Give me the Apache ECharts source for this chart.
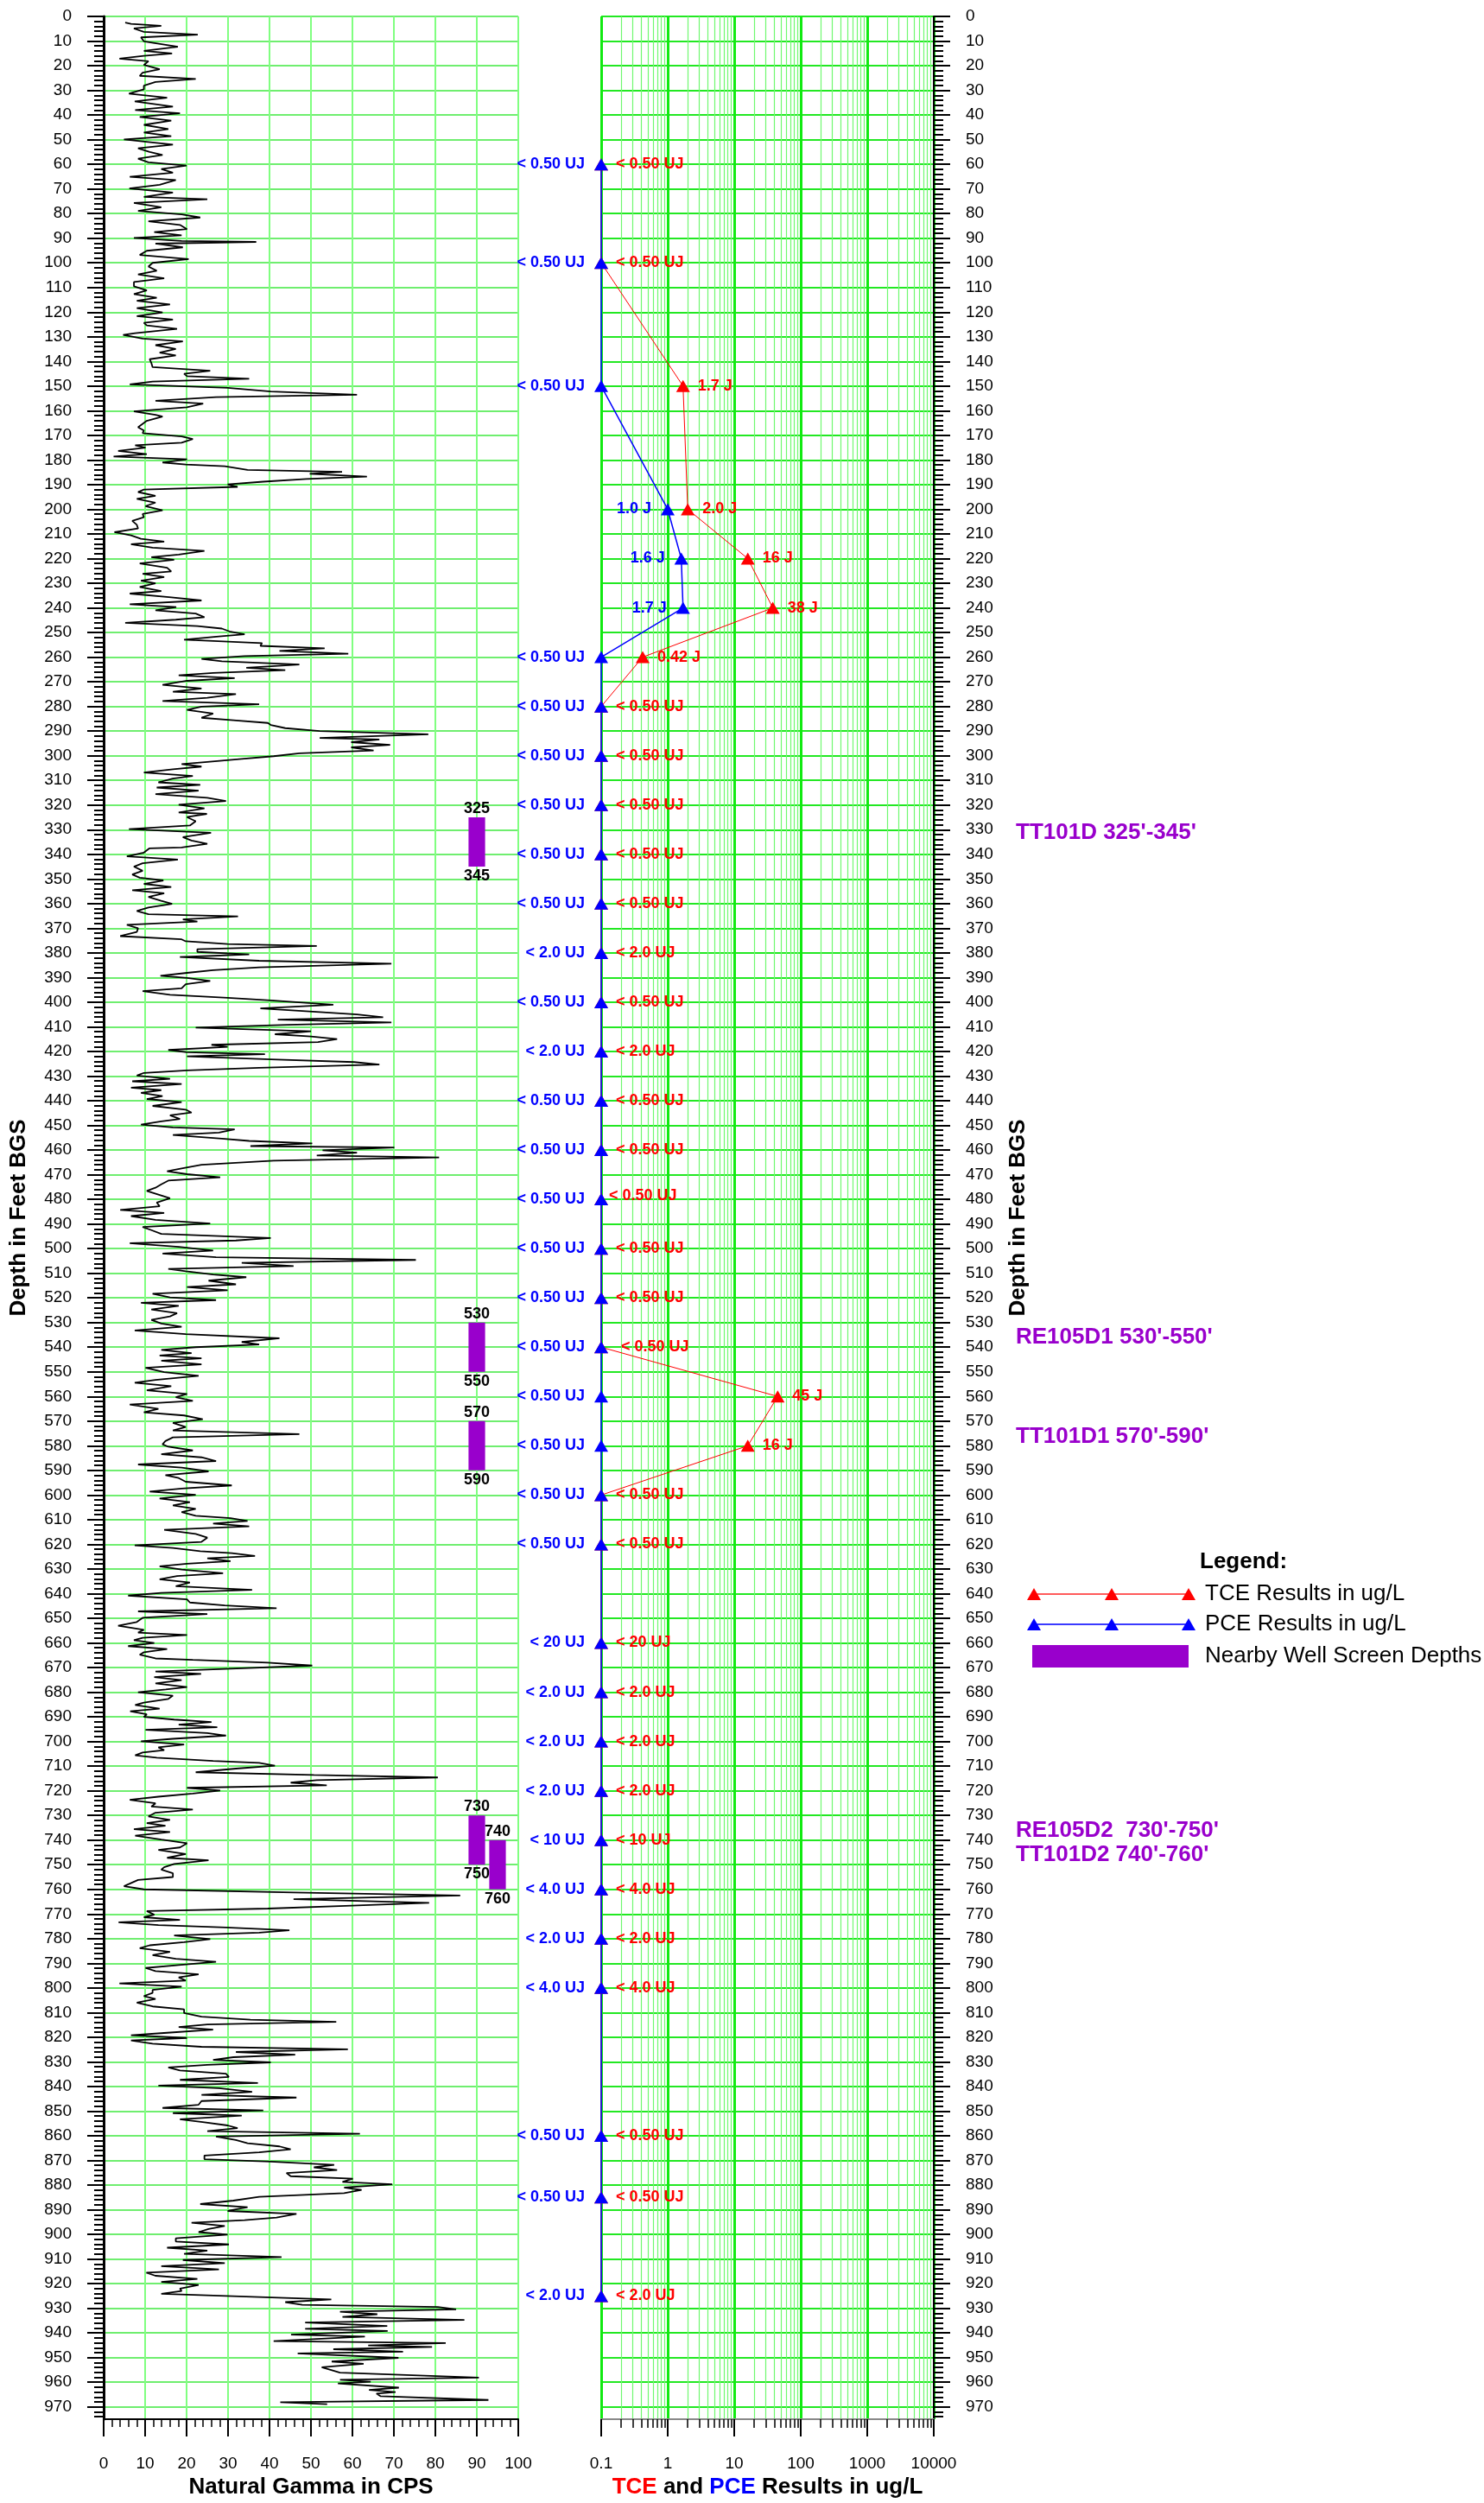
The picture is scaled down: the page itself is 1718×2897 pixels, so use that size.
<!DOCTYPE html>
<html><head><meta charset="utf-8">
<script src="https://cdn.jsdelivr.net/npm/echarts@6/dist/echarts.min.js"></script>
<style>html,body{margin:0;padding:0;background:#fff}#c{width:1718px;height:2897px}</style>
</head><body><div id="c"></div>
<script>
// ---------------- DATA ----------------
// Natural gamma log: [depth ft, CPS]
const gammaReadings = [
[2.5,5.2],[3.0,6.6],[3.8,13.9],[4.9,7.3],[6.3,9.7],[7.4,22.7],[8.5,9.0],[10.1,9.7],[12.3,17.9],[14.0,9.7],[15.0,16.5],[16.0,9.7],[17.1,3.8],[18.2,10.8],[19.7,9.7],[21.4,13.5],[22.8,9.4],[24.1,8.7],[25.4,22.2],[26.6,12.5],[28.1,9.7],[29.6,9.7],[31.3,6.1],[33.0,15.3],[34.5,7.5],[36.6,16.7],[38.0,7.6],[39.3,18.4],[40.8,8.7],[42.3,16.3],[44.0,9.7],[45.7,15.6],[47.1,9.7],[48.6,16.3],[49.9,4.9],[52.0,16.7],[53.5,8.3],[55.0,11.1],[56.2,14.2],[57.7,8.3],[59.2,10.8],[60.5,20.0],[61.9,13.9],[63.4,16.7],[65.1,6.3],[66.4,17.4],[68.3,13.5],[69.8,6.2],[71.5,16.7],[73.2,9.7],[74.2,25.0],[75.7,7.3],[77.4,13.9],[78.9,8.3],[80.3,18.8],[81.6,23.3],[83.1,10.8],[84.6,18.4],[86.3,20.1],[87.5,12.2],[88.8,18.8],[89.9,7.3],[91.1,18.8],[91.5,36.8],[92.2,12.5],[93.7,19.1],[95.1,10.4],[96.8,8.7],[98.5,20.5],[100.0,11.8],[101.5,10.8],[103.2,12.8],[104.7,8.3],[106.3,14.6],[107.8,7.3],[109.5,7.3],[111.2,10.4],[112.7,7.3],[114.2,12.8],[115.4,8.0],[116.9,16.0],[118.4,8.0],[120.1,14.2],[121.6,8.0],[123.0,16.7],[124.3,9.7],[125.4,10.4],[126.8,17.7],[128.5,7.6],[129.2,4.7],[130.7,9.4],[131.9,19.1],[133.4,12.5],[134.9,17.4],[136.4,13.5],[137.6,17.4],[139.1,11.1],[140.6,11.5],[142.3,11.8],[143.8,25.7],[145.0,19.4],[146.0,20.1],[147.0,35.1],[148.2,11.8],[149.3,6.3],[150.7,29.9],[152.2,40.3],[153.5,61.1],[154.5,27.1],[156.0,12.5],[157.1,24.0],[158.6,20.1],[160.3,7.3],[161.7,12.5],[162.4,14.2],[164.1,10.4],[166.7,8.3],[168.0,9.7],[169.1,9.4],[170.4,18.8],[171.5,21.5],[173.0,18.8],[174.0,7.6],[175.0,10.1],[176.3,3.5],[177.6,10.4],[178.6,2.4],[179.7,20.1],[181.0,14.2],[181.8,19.8],[182.5,29.2],[184.0,34.7],[184.8,57.5],[185.6,49.7],[186.7,63.5],[187.7,48.9],[188.8,38.5],[189.9,29.9],[190.9,32.3],[192.0,9.7],[193.0,8.3],[194.5,12.5],[195.8,8.0],[197.3,12.5],[198.7,10.1],[200.4,14.2],[201.9,9.4],[203.2,9.7],[204.7,6.9],[206.3,8.0],[207.8,8.3],[209.3,2.6],[210.6,6.6],[212.0,9.0],[213.1,14.6],[214.2,6.6],[215.6,11.8],[216.9,24.3],[218.4,18.1],[219.4,11.5],[220.5,17.0],[222.0,8.7],[223.7,15.3],[225.2,16.3],[226.2,9.4],[227.5,14.6],[229.0,9.0],[230.0,12.5],[231.5,8.7],[233.2,13.9],[234.2,6.3],[235.7,16.3],[237.0,23.6],[238.5,6.3],[239.7,17.5],[241.0,12.5],[242.3,22.2],[243.8,24.3],[244.8,17.4],[246.1,5.2],[247.4,22.6],[248.4,28.5],[249.7,30.6],[250.7,34.0],[251.6,27.8],[252.9,19.4],[254.3,38.2],[255.4,37.8],[256.4,53.3],[257.5,42.4],[258.6,59.0],[259.6,34.0],[260.7,23.6],[261.7,28.5],[263.0,47.2],[264.3,34.4],[265.3,43.8],[266.4,26.4],[267.4,18.1],[268.5,31.6],[269.6,20.1],[271.2,14.2],[272.7,23.6],[274.0,16.7],[275.0,31.9],[276.5,25.0],[277.8,14.2],[279.1,37.5],[280.1,23.6],[281.4,20.1],[282.9,26.4],[284.6,23.6],[285.6,31.3],[286.7,39.6],[287.5,40.3],[288.8,43.8],[290.0,52.1],[291.3,78.3],[292.8,52.1],[293.4,66.5],[294.5,59.7],[295.6,69.1],[296.6,59.7],[297.9,65.1],[299.0,47.2],[300.2,41.0],[301.3,33.3],[302.5,25.0],[303.4,18.8],[304.4,23.6],[305.5,16.7],[306.8,9.7],[308.2,21.5],[309.3,16.7],[310.8,13.2],[311.8,23.3],[312.9,12.8],[314.2,22.9],[315.6,12.5],[317.1,25.0],[318.4,29.5],[319.9,18.1],[321.4,24.3],[323.0,18.1],[323.6,24.9],
[324.9,20.1],[326.6,22.2],[328.3,20.8],[329.8,6.1],[331.3,25.9],[333.0,19.1],[334.4,21.2],[335.7,25.0],[337.2,18.8],[337.6,11.0],[339.3,9.7],[340.8,5.6],[342.1,17.9],[343.6,9.4],[345.0,7.3],[346.7,9.4],[348.2,6.9],[349.5,8.7],[350.6,14.4],[352.0,9.7],[353.3,16.3],[354.6,6.9],[355.8,14.6],[357.3,10.8],[358.8,13.7],[360.1,16.5],[361.6,10.8],[363.0,8.0],[364.3,10.8],[365.2,32.4],[366.4,19.1],[367.3,22.6],[368.6,5.6],[370.0,8.3],[371.5,8.0],[373.2,4.0],[374.5,18.8],[375.3,19.8],[376.4,29.9],[377.2,51.4],[378.5,22.6],[379.6,22.6],[380.6,35.1],[381.7,18.4],[383.2,37.5],[384.4,69.4],[385.9,37.5],[387.0,26.4],[388.1,20.1],[389.3,13.7],[390.2,20.1],[391.4,25.7],[392.7,19.8],[394.4,18.8],[395.5,9.4],[397.0,16.0],[398.2,29.9],[399.3,40.3],[401.0,55.4],[402.5,37.8],[404.0,52.1],[405.0,61.1],[406.1,67.4],[407.1,42.0],[408.2,69.4],[409.2,44.4],[410.3,22.2],[411.8,50.0],[413.0,41.3],[413.9,50.0],[415.0,56.3],[416.2,51.7],[417.3,26.0],[418.1,29.9],[419.4,15.6],[420.3,20.1],[421.1,38.9],[422.0,20.1],[423.2,40.3],[424.3,60.4],[425.3,66.5],[426.6,37.5],[427.7,20.1],[428.7,9.7],[429.8,8.0],[431.1,16.0],[432.1,6.9],[433.2,18.8],[434.7,6.6],[435.7,13.9],[436.8,9.0],[438.1,14.2],[439.3,10.4],[440.6,18.8],[442.1,11.8],[443.6,19.8],[444.8,21.2],[445.9,16.0],[447.4,18.4],[448.4,13.9],[449.7,9.0],[450.8,16.7],[451.6,31.6],[452.9,27.8],[453.9,16.7],[455.4,28.5],[456.3,35.1],[457.3,50.3],[458.4,35.4],[459.0,70.1],[460.1,52.8],[461.1,61.1],[462.2,51.4],[463.0,80.9],[464.3,41.0],[466.0,23.6],[467.5,18.8],[468.6,15.3],[469.8,20.1],[471.1,28.1],[472.4,15.6],[473.9,13.9],[475.3,12.5],[476.6,10.4],[478.1,13.2],[479.6,16.0],[481.3,12.8],[482.8,13.5],[484.3,4.0],[485.5,14.6],[486.8,6.6],[488.3,12.5],[489.8,25.7],[491.2,9.4],[492.5,11.5],[494.0,13.9],[495.7,40.3],[496.7,31.9],[497.8,6.3],[499.3,18.1],[500.8,26.4],[502.0,14.2],[503.5,27.1],[504.6,75.3],[505.8,33.3],[507.1,45.8],[508.2,15.6],[509.2,19.8],[510.5,26.4],[511.6,34.4],[513.0,25.3],[514.5,31.9],[515.6,20.1],[516.9,29.9],[518.3,11.8],[519.8,16.0],[520.9,27.1],[522.0,9.0],[523.2,18.1],[524.7,11.5],[526.2,17.7],[527.5,16.0],[528.9,11.5],[530.4,13.9],[531.7,18.8],[533.2,7.5],[534.7,19.8],[536.4,42.4],[537.9,33.3],[538.9,37.5],[540.0,22.2],[541.1,13.9],[542.4,21.2],[543.4,13.5],[544.5,23.6],[545.5,13.9],[547.0,23.6],[548.4,10.1],[550.1,14.6],[551.6,22.9],[553.3,12.5],[554.4,7.5],[555.8,16.3],[557.5,10.4],[559.0,20.1],[560.3,17.4],[561.8,21.5],[563.3,6.3],[565.0,13.2],[566.4,9.7],[567.7,19.4],[569.2,23.9],[570.7,16.7],[572.4,19.8],[573.8,16.7],[575.3,47.2],[576.6,16.7],[578.1,14.9],[579.4,14.2],[580.4,15.6],[581.9,21.5],[583.4,13.9],[584.7,23.6],[586.2,27.1],[587.6,8.3],[588.9,18.8],[590.4,25.3],[591.9,14.9],[593.1,18.1],[594.6,19.8],[596.1,30.9],[597.4,18.8],[598.6,11.1],[599.9,22.2],[601.4,13.5],[602.9,20.8],[604.2,16.7],[605.6,22.2],[606.9,18.8],[608.4,22.2],[609.4,30.6],[610.5,34.7],[611.6,26.4],[612.7,35.1],[614.1,14.6],[615.8,22.2],[617.3,25.0],[619.0,23.6],[620.4,7.5],[621.5,16.7],[622.8,23.3],[623.6,30.9],[624.7,36.5],[625.7,25.0],[626.8,30.6],[627.9,20.1],[628.9,13.5],[630.2,18.8],[631.7,28.8],[632.9,17.7],[634.2,13.5],[635.5,20.8],[637.0,17.4],[638.5,35.8],[639.7,13.9],[640.8,5.9],[642.3,20.1],[643.6,20.8],[644.8,29.2],[645.9,41.7],[647.2,8.3],[648.3,25.0],[649.8,9.4],[651.5,8.0],[653.0,3.5],
[654.7,9.7],[655.8,8.3],[656.8,20.1],[657.9,9.4],[658.9,7.3],[660.0,12.2],[661.3,5.9],[662.5,15.3],[663.8,9.7],[664.8,8.7],[666.3,12.5],[666.9,21.5],[668.0,39.6],[669.2,50.3],[670.5,30.6],[671.6,12.5],[672.6,23.5],[673.9,12.2],[675.1,18.8],[676.4,12.5],[677.9,20.1],[678.9,15.0],[680.0,8.3],[681.4,16.7],[682.7,15.6],[684.2,9.7],[685.2,7.6],[686.7,13.5],[687.7,6.4],[689.0,10.4],[690.0,9.7],[691.1,17.0],[692.1,26.0],[693.2,18.1],[694.2,27.4],[695.3,10.1],[696.6,25.0],[697.6,29.5],[698.9,16.7],[699.9,9.0],[701.2,19.4],[702.4,13.2],[703.5,14.6],[704.5,9.4],[705.6,7.6],[706.6,12.8],[707.9,26.4],[708.7,37.5],[709.8,41.3],[711.0,31.9],[712.5,22.2],[713.6,50.7],[714.6,80.6],[715.7,51.4],[716.7,45.1],[717.8,53.8],[718.8,20.1],[719.9,28.1],[721.1,21.5],[722.4,13.2],[723.7,6.3],[725.1,12.5],[726.4,11.5],[727.6,21.5],[728.9,12.5],[730.4,10.8],[731.8,16.0],[733.1,10.4],[734.2,14.9],[735.6,7.3],[736.7,16.0],[738.2,7.6],[739.8,13.9],[741.3,20.1],[743.0,18.4],[744.0,13.2],[745.7,19.8],[747.2,15.3],[748.2,25.3],[749.7,17.0],[751.0,14.6],[752.0,13.9],[753.5,16.7],[755.0,16.7],[756.2,8.3],[757.7,6.3],[758.7,4.9],[760.0,9.7],[761.3,45.8],[762.5,86.0],[764.0,45.8],[765.5,78.5],[766.7,58.3],[767.8,39.6],[768.8,10.4],[770.3,12.2],[771.3,9.7],[772.4,18.4],[773.4,3.6],[774.5,13.2],[775.5,29.5],[776.6,44.8],[777.6,37.5],[778.7,17.0],[780.2,25.7],[781.4,19.4],[782.7,11.1],[783.9,8.7],[785.4,16.0],[786.7,11.8],[788.2,17.4],[789.4,27.1],[790.7,18.1],[791.9,10.1],[793.2,12.5],[794.5,22.9],[795.7,18.1],[797.0,19.8],[798.2,3.8],[799.5,18.8],[800.8,11.8],[802.0,11.8],[803.3,9.7],[804.5,12.5],[806.0,8.0],[807.5,11.8],[808.7,19.4],[810.2,19.4],[811.7,23.6],[812.9,35.4],[813.8,56.1],[814.8,25.0],[815.9,18.1],[816.9,26.4],[818.2,15.3],[819.2,6.6],[820.3,20.1],[821.3,6.6],[822.6,11.8],[823.9,23.6],[824.9,58.9],[826.0,31.9],[827.1,46.2],[828.1,31.3],[829.2,26.4],[830.2,40.3],[831.2,25.0],[832.3,15.6],[833.5,18.4],[834.8,29.5],[836.1,30.2],[837.3,18.4],[838.6,37.2],[839.6,13.2],[840.7,27.8],[842.2,35.8],[843.4,23.6],[844.5,46.5],[845.9,23.6],[847.4,22.9],[848.7,14.2],[849.7,38.5],[850.8,16.7],[851.8,33.3],[853.3,18.4],[854.5,24.3],[855.8,29.9],[856.9,32.3],[858.1,25.0],[859.2,61.8],[860.3,27.1],[861.7,31.9],[863.0,34.7],[864.3,42.4],[865.5,45.1],[866.7,37.5],[868.0,24.3],[869.5,24.3],[870.5,40.3],[871.8,55.6],[872.8,50.7],[873.9,56.3],[875.1,44.1],[876.4,45.1],[877.4,60.1],[878.7,57.6],[879.7,69.6],[881.0,58.0],[882.0,62.2],[883.3,58.0],[884.8,37.5],[886.3,31.3],[887.7,23.3],[889.0,34.7],[890.5,29.9],[891.7,46.5],[893.2,41.7],[894.2,34.0],[895.3,21.2],[896.6,29.2],[897.8,25.3],[899.1,22.9],[900.1,29.9],[901.6,17.4],[902.9,17.4],[904.1,30.2],[905.4,15.3],[906.6,25.0],[907.9,19.4],[909.2,42.9],[910.4,19.1],[911.7,29.2],[912.9,13.9],[914.2,27.8],[915.5,10.3],[916.8,12.5],[918.1,22.6],[919.3,13.9],[920.5,22.9],[922.0,18.4],[923.0,18.8],[924.1,13.9],[925.4,37.5],[926.4,54.9],[927.5,43.8],[928.6,47.9],[929.5,80.6],[930.4,85.0],[931.4,57.0],[932.4,66.0],[933.5,57.6],[934.7,87.0],[935.8,48.6],[937.2,68.4],[938.3,48.6],
[939.2,68.5],[940.7,45.2],[941.5,63.0],[943.3,41.0],[944.1,82.5],[945.1,63.8],[945.7,79.2],[946.6,55.4],[947.6,72.2],[948.3,46.8],[950.1,71.1],[951.6,55.0],[952.5,62.7],[953.9,52.6],[956.1,57.0],[958.1,90.5],[959.0,57.0],[959.8,64.4],[960.5,56.5],[962.2,71.2],[963.1,64.0],[964.0,70.4],[964.6,65.8],[965.7,66.8],[967.2,92.8],[968.1,42.6],[968.9,53.9]
];

// Groundwater sample results
const sampleDepth = [60,100,150,200,220,240,260,280,300,320,340,360,380,400,420,440,460,480,500,520,540,560,580,600,620,660,680,700,720,740,760,780,800,860,885,925];
const tceValue = [0.1,0.1,1.7,2.0,16,38,0.42,0.1,0.1,0.1,0.1,0.1,0.1,0.1,0.1,0.1,0.1,0.1,0.1,0.1,0.1,45,16,0.1,0.1,0.1,0.1,0.1,0.1,0.1,0.1,0.1,0.1,0.1,0.1,0.1];
const pceValue = [0.1,0.1,0.1,1.0,1.6,1.7,0.1,0.1,0.1,0.1,0.1,0.1,0.1,0.1,0.1,0.1,0.1,0.1,0.1,0.1,0.1,0.1,0.1,0.1,0.1,0.1,0.1,0.1,0.1,0.1,0.1,0.1,0.1,0.1,0.1,0.1];
const tceLabel = ["< 0.50 UJ","< 0.50 UJ","1.7 J","2.0 J","16 J","38 J","0.42 J","< 0.50 UJ","< 0.50 UJ","< 0.50 UJ","< 0.50 UJ","< 0.50 UJ","< 2.0 UJ","< 0.50 UJ","< 2.0 UJ","< 0.50 UJ","< 0.50 UJ","< 0.50 UJ","< 0.50 UJ","< 0.50 UJ","< 0.50 UJ","45 J","16 J","< 0.50 UJ","< 0.50 UJ","< 20 UJ","< 2.0 UJ","< 2.0 UJ","< 2.0 UJ","< 10 UJ","< 4.0 UJ","< 2.0 UJ","< 4.0 UJ","< 0.50 UJ","< 0.50 UJ","< 2.0 UJ"];
const pceLabel = ["< 0.50 UJ","< 0.50 UJ","< 0.50 UJ","1.0 J","1.6 J","1.7 J","< 0.50 UJ","< 0.50 UJ","< 0.50 UJ","< 0.50 UJ","< 0.50 UJ","< 0.50 UJ","< 2.0 UJ","< 0.50 UJ","< 2.0 UJ","< 0.50 UJ","< 0.50 UJ","< 0.50 UJ","< 0.50 UJ","< 0.50 UJ","< 0.50 UJ","< 0.50 UJ","< 0.50 UJ","< 0.50 UJ","< 0.50 UJ","< 20 UJ","< 2.0 UJ","< 2.0 UJ","< 2.0 UJ","< 10 UJ","< 4.0 UJ","< 2.0 UJ","< 4.0 UJ","< 0.50 UJ","< 0.50 UJ","< 2.0 UJ"];

// Nearby well screens
const screenTop = [325, 530, 570, 730, 740];
const screenBottom = [345, 550, 590, 750, 760];
const screenColumn = [0, 0, 0, 0, 1];
const screenName = ["TT101D 325'-345'", "RE105D1 530'-550'", "TT101D1 570'-590'", "RE105D2  730'-750'", "TT101D2 740'-760'"];

// Tick values
const logMajor = [0.1, 1, 10, 100, 1000, 10000];
const logMinor = [0.2,0.3,0.4,0.5,0.6,0.7,0.8,0.9,2,3,4,5,6,7,8,9,20,30,40,50,60,70,80,90,200,300,400,500,600,700,800,900,2000,3000,4000,5000,6000,7000,8000,9000];
const depthMajor = []; for (let d = 0; d <= 970; d += 10) depthMajor.push(d);
const depthMinor = []; for (let d = 2; d < 975; d += 2) if (d % 10) depthMinor.push(d);

// ---------------- LAYOUT / STYLE ----------------
const FONT = '"Liberation Sans", Arial, Helvetica, sans-serif';
const TOP = 19, PLOT_H = 2785;
const SCREEN_COLS = [[88, 92], [93, 97]];
const WELL_LABEL_X = 1176;
const PURPLE = '#9900cc';
// manual nudges of a few TCE labels (pixels), as in the original
const TCE_LABEL_NUDGE = {17: [-8, -4], 20: [6, 0]};

const chart = echarts.init(document.getElementById('c'), null, {renderer: 'canvas'});

const labelFont = {fontFamily: FONT, fontSize: 19, color: '#000'};
const titleFont = {fontFamily: FONT, fontSize: 26, fontWeight: 'bold', color: '#000'};

function depthAxisMajor(grid, pos) {
  return {
    gridIndex: grid, type: 'value', inverse: true, min: 0, max: 975, interval: 10, position: pos,
    axisLine: {show: true, onZero: false, lineStyle: {color: '#000', width: grid === 0 ? 3 : 2}},
    axisTick: {show: true, customValues: depthMajor, length: 19, lineStyle: {color: '#000', width: 2}},
    axisLabel: Object.assign({customValues: depthMajor, margin: 37, align: pos === 'left' ? 'right' : 'left'}, labelFont),
    splitLine: {show: true, lineStyle: {color: grid === 0 ? '#3fe83f' : '#22e822', width: grid === 0 ? 1.5 : 2.2}},
    name: 'Depth in Feet BGS', nameLocation: 'middle', nameGap: 85, nameRotate: 90,
    nameTextStyle: titleFont
  };
}
function depthAxisMinor(grid, pos) {
  return {
    gridIndex: grid, type: 'value', inverse: true, min: 0, max: 975, interval: 2, position: pos,
    axisLine: {show: false, onZero: false},
    axisTick: {show: true, customValues: depthMinor, length: 11, lineStyle: {color: '#000', width: 2}},
    axisLabel: {show: false}, splitLine: {show: false}
  };
}

const option = {
  backgroundColor: '#ffffff',
  animation: false,
  grid: [
    {left: 120, width: 480, top: TOP, height: PLOT_H, containLabel: false},
    {left: 696, width: 385, top: TOP, height: PLOT_H, containLabel: false}
  ],
  xAxis: [
    {
      gridIndex: 0, type: 'value', min: 0, max: 100, interval: 10, position: 'bottom',
      axisLine: {show: true, onZero: false, lineStyle: {color: '#000', width: 2}},
      axisTick: {show: true, length: 20, lineStyle: {color: '#000', width: 2}},
      minorTick: {show: true, splitNumber: 5, length: 9, lineStyle: {color: '#000', width: 1.5}},
      axisLabel: Object.assign({margin: 42}, labelFont),
      splitLine: {show: true, lineStyle: {color: '#80ff80', width: 2}},
      name: 'Natural Gamma in CPS', nameLocation: 'middle', nameGap: 66, nameTextStyle: titleFont
    },
    {
      gridIndex: 1, type: 'log', logBase: 10, min: 0.1, max: 10000, position: 'bottom',
      axisLine: {show: false, onZero: false},
      axisTick: {show: true, customValues: logMinor, length: 10, lineStyle: {color: '#000', width: 1.5}},
      axisLabel: {show: false},
      splitLine: {show: true, lineStyle: {color: '#6ff86f', width: 1.2}}
    },
    {
      gridIndex: 1, type: 'log', logBase: 10, min: 0.1, max: 10000, position: 'bottom',
      axisLine: {show: true, onZero: false, lineStyle: {color: '#888', width: 2}},
      axisTick: {show: true, customValues: logMajor, length: 20, lineStyle: {color: '#000', width: 2}},
      axisLabel: Object.assign({customValues: logMajor, margin: 42, formatter: v => String(v)}, labelFont),
      splitLine: {show: true, lineStyle: {color: '#11ea11', width: 3}},
      name: '{r|TCE} and {b|PCE} Results in ug/L', nameLocation: 'middle', nameGap: 66,
      nameTextStyle: Object.assign({rich: {
        r: {color: '#ff0000', fontFamily: FONT, fontSize: 26, fontWeight: 'bold'},
        b: {color: '#0000ff', fontFamily: FONT, fontSize: 26, fontWeight: 'bold'}
      }}, titleFont)
    }
  ],
  yAxis: [
    depthAxisMajor(0, 'left'),
    depthAxisMinor(0, 'left'),
    depthAxisMajor(1, 'right'),
    depthAxisMinor(1, 'right')
  ],
  series: [
    {
      name: 'Natural Gamma', type: 'line', xAxisIndex: 0, yAxisIndex: 0,
      data: gammaReadings.map(r => [r[1], r[0]]),
      symbol: 'none', showSymbol: false, clip: false,
      lineStyle: {color: '#000', width: 1.8}
    },
    {
      name: 'Well Screens', type: 'custom', xAxisIndex: 0, yAxisIndex: 0, clip: false,
      data: screenTop.map((t, i) => [t, screenBottom[i], screenColumn[i]]),
      encode: {x: 2, y: [0, 1]},
      renderItem: function (params, api) {
        const i = params.dataIndex;
        const top = api.value(0), bot = api.value(1), col = api.value(2);
        const c = SCREEN_COLS[col];
        const p0 = api.coord([c[0], top]);
        const p1 = api.coord([c[1], bot]);
        const mid = api.coord([c[0], (top + bot) / 2]);
        const cx = (p0[0] + p1[0]) / 2;
        const f = 'bold 18px ' + FONT;
        return {type: 'group', children: [
          {type: 'rect', shape: {x: p0[0], y: p0[1], width: p1[0] - p0[0], height: p1[1] - p0[1]}, style: {fill: PURPLE}},
          {type: 'text', style: {text: String(top), x: cx, y: p0[1] - 1, align: 'center', verticalAlign: 'bottom', font: f, fill: '#000'}},
          {type: 'text', style: {text: String(bot), x: cx, y: p1[1] + 2, align: 'center', verticalAlign: 'top', font: f, fill: '#000'}},
          {type: 'text', style: {text: screenName[i], x: WELL_LABEL_X, y: mid[1] + 2, align: 'left', verticalAlign: 'bottom', font: 'bold 26px ' + FONT, fill: PURPLE}}
        ]};
      }
    },
    {
      name: 'TCE', type: 'line', xAxisIndex: 2, yAxisIndex: 2, clip: false,
      data: tceValue.map((v, i) => {
        const item = {value: [v, sampleDepth[i]]};
        if (TCE_LABEL_NUDGE[i]) item.label = {offset: TCE_LABEL_NUDGE[i]};
        return item;
      }),
      symbol: 'triangle', symbolSize: [16, 14], showAllSymbol: true,
      itemStyle: {color: '#ff0000'},
      lineStyle: {color: '#ff0000', width: 1},
      label: {show: true, position: 'right', distance: 9, formatter: p => tceLabel[p.dataIndex],
        color: '#ff0000', fontFamily: FONT, fontSize: 18, fontWeight: 'bold'}
    },
    {
      name: 'PCE', type: 'line', xAxisIndex: 2, yAxisIndex: 2, clip: false,
      data: pceValue.map((v, i) => [v, sampleDepth[i]]),
      symbol: 'triangle', symbolSize: [16, 14], showAllSymbol: true,
      itemStyle: {color: '#0000ff'},
      lineStyle: {color: '#0000ff', width: 1.5},
      label: {show: true, position: 'left', distance: 11, formatter: p => pceLabel[p.dataIndex],
        color: '#0000ff', fontFamily: FONT, fontSize: 18, fontWeight: 'bold'}
    }
  ],
  graphic: (function () {
    const tri = (x, y, color) => ({type: 'polygon', shape: {points: [[x - 8, y + 7], [x + 8, y + 7], [x, y - 7]]}, style: {fill: color}});
    const t = (txt, x, y, bold) => ({type: 'text', style: {text: txt, x: x, y: y, verticalAlign: 'middle', font: (bold ? 'bold ' : '') + '26px ' + FONT, fill: '#000'}});
    return [
      t('Legend:', 1389, 1808, true),
      {type: 'line', shape: {x1: 1197, y1: 1845, x2: 1376, y2: 1845}, style: {stroke: '#ff5a5a', lineWidth: 2}},
      tri(1197, 1845, '#ff0000'), tri(1287, 1845, '#ff0000'), tri(1376, 1845, '#ff0000'),
      t('TCE Results in ug/L', 1395, 1845, false),
      {type: 'line', shape: {x1: 1197, y1: 1880, x2: 1376, y2: 1880}, style: {stroke: '#3a3aff', lineWidth: 2}},
      tri(1197, 1880, '#0000ff'), tri(1287, 1880, '#0000ff'), tri(1376, 1880, '#0000ff'),
      t('PCE Results in ug/L', 1395, 1880, false),
      {type: 'rect', shape: {x: 1195, y: 1904, width: 181, height: 26}, style: {fill: PURPLE}},
      t('Nearby Well Screen Depths', 1395, 1917, false)
    ];
  })()
};
chart.setOption(option);
</script>
</body></html>
